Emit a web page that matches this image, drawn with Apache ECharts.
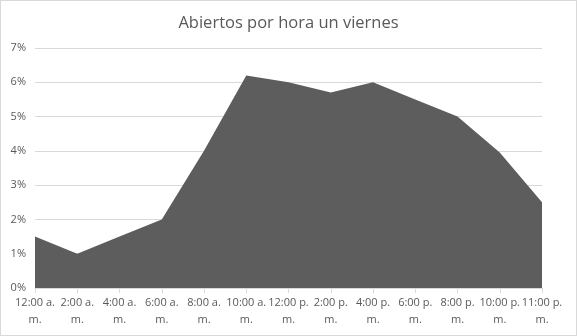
<!DOCTYPE html>
<html><head><meta charset="utf-8">
<script src="https://cdn.jsdelivr.net/npm/echarts@6/dist/echarts.min.js"></script>
<style>html,body{margin:0;padding:0;background:#fff}#c{width:575px;height:334px;border:1px solid #d9d9d9}</style>
</head><body><div id="c"></div>
<script>
const categories = ["12:00 a. m.","2:00 a. m.","4:00 a. m.","6:00 a. m.","8:00 a. m.","10:00 a. m.","12:00 p. m.","2:00 p. m.","4:00 p. m.","6:00 p. m.","8:00 p. m.","10:00 p. m.","11:00 p. m."];
const values = [1.5, 1.0, 1.5, 2.0, 4.0, 6.2, 6.0, 5.7, 6.0, 5.5, 5.0, 3.95, 2.5];
const titleText = "Abiertos por hora un viernes";
const chart = echarts.init(document.getElementById('c'));
chart.setOption({
  animation:false,
  title:{text:titleText,left:'center',top:9,textStyle:{fontFamily:'Open Sans',fontSize:16.5,fontWeight:'normal',color:'#595959'}},
  grid:{left:34,right:34,top:47,bottom:47},
  xAxis:{type:'category',data:categories,boundaryGap:false,
    axisLine:{lineStyle:{color:'#d9d9d9'}},
    axisTick:{show:true,alignWithLabel:true,lineStyle:{color:'#d9d9d9'}},
    axisLabel:{interval:0,color:'#595959',fontFamily:'Open Sans',fontSize:11,lineHeight:17,margin:6,
      formatter:v=>{const i=v.lastIndexOf(' ');return v.slice(0,i)+'\n'+v.slice(i+1);}}},
  yAxis:{type:'value',min:0,max:7,interval:1,
    axisLabel:{color:'#595959',fontFamily:'Open Sans',fontSize:11,margin:9,formatter:v=>v+'%'},
    splitLine:{lineStyle:{color:'#d9d9d9'}},axisLine:{show:false},axisTick:{show:false}},
  series:[{type:'line',data:values,symbol:'none',lineStyle:{width:0},areaStyle:{color:'#5d5d5d',opacity:1}}]
});
</script></body></html>
